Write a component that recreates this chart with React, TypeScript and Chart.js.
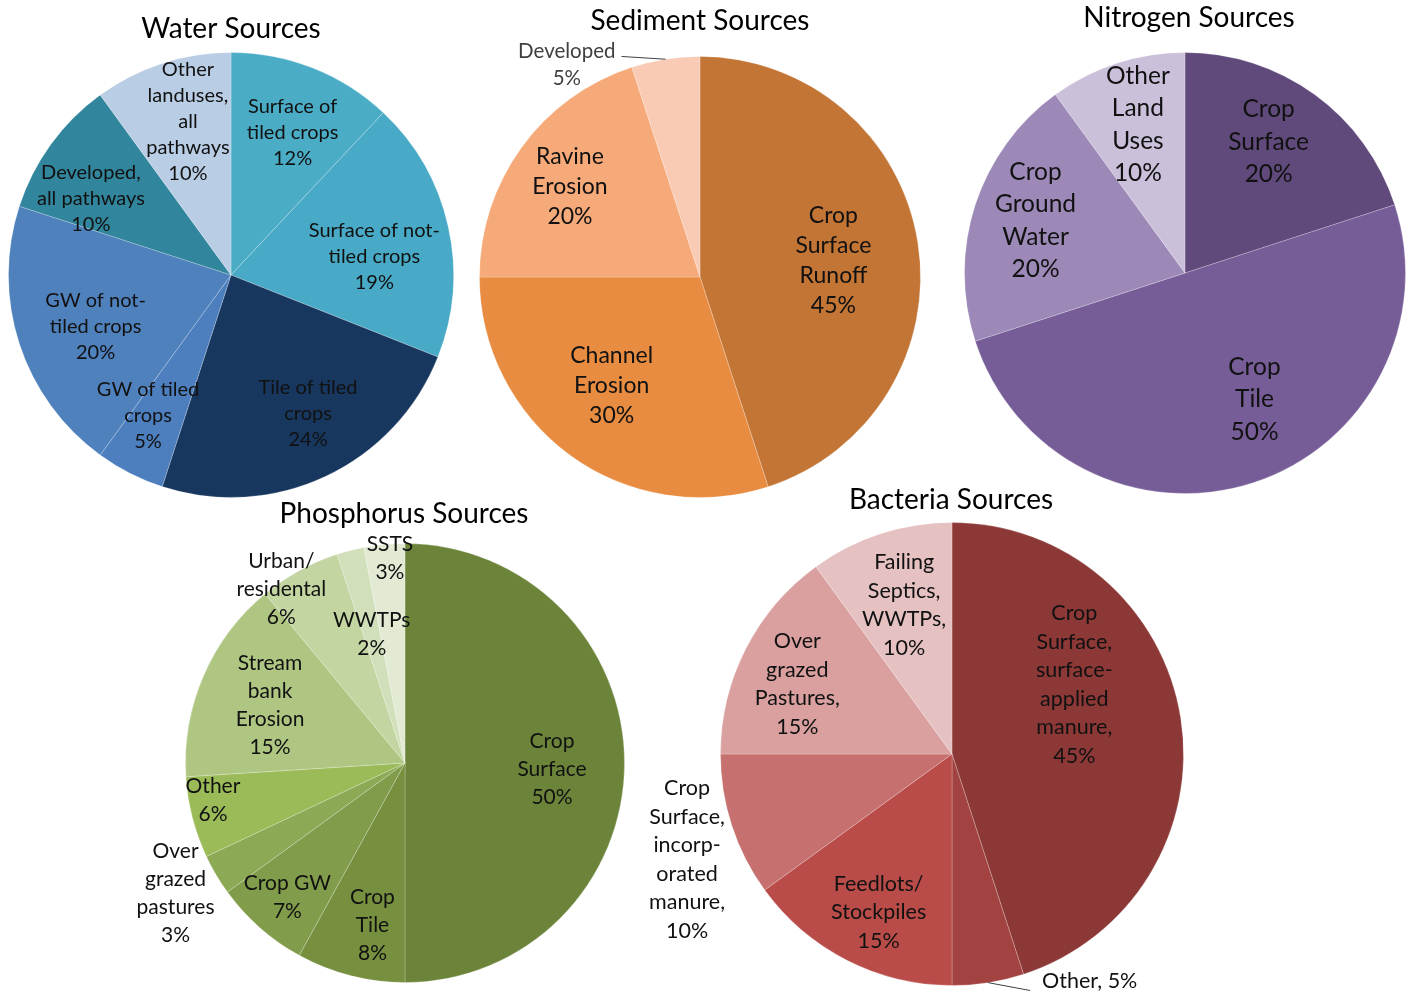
import React, { useEffect, useRef } from "react";
import { Chart, registerables } from "chart.js";

Chart.register(...registerables);

const PAGE_W = 1410;
const PAGE_H = 992;
const FONT = "Lato, 'Open Sans', sans-serif";
const TEXT_COLOR = "#111111";

// ---------- Water ----------
const waterTitle = "Water Sources";
const waterCategories = [
  "Surface of\ntiled crops",
  "Surface of not-\ntiled crops",
  "Tile of tiled\ncrops",
  "GW of tiled\ncrops",
  "GW of not-\ntiled crops",
  "Developed,\nall pathways",
  "Other\nlanduses,\nall\npathways",
];
const waterValues = [12, 19, 24, 5, 20, 10, 10];
const waterColors = ["#4BACC6", "#48AAC6", "#17375E", "#4D7FBE", "#4F81BD", "#31859C", "#B9CDE5"];

// ---------- Sediment ----------
const sedimentTitle = "Sediment Sources";
const sedimentCategories = ["Crop\nSurface\nRunoff", "Channel\nErosion", "Ravine\nErosion", "Developed"];
const sedimentValues = [45, 30, 20, 5];
const sedimentColors = ["#C37536", "#E88C42", "#F6AA79", "#F9CBB5"];

// ---------- Nitrogen ----------
const nitrogenTitle = "Nitrogen Sources";
const nitrogenCategories = ["Crop\nSurface", "Crop\nTile", "Crop\nGround\nWater", "Other\nLand\nUses"];
const nitrogenValues = [20, 50, 20, 10];
const nitrogenColors = ["#604A7B", "#765D97", "#9C89B8", "#CBC0DA"];

// ---------- Phosphorus ----------
const phosphorusTitle = "Phosphorus Sources";
const phosphorusCategories = [
  "Crop\nSurface",
  "Crop\nTile",
  "Crop GW",
  "Over\ngrazed\npastures",
  "Other",
  "Stream\nbank\nErosion",
  "Urban/\nresidental",
  "WWTPs",
  "SSTS",
];
const phosphorusValues = [50, 8, 7, 3, 6, 15, 6, 2, 3];
const phosphorusColors = ["#6B843A", "#76903F", "#819C4A", "#8CA955", "#9BBB59", "#AFC683", "#C3D5A1", "#D1DFBB", "#E2EAD4"];

// ---------- Bacteria ----------
const bacteriaTitle = "Bacteria Sources";
const bacteriaCategories = [
  "Crop\nSurface,\nsurface-\napplied\nmanure",
  "Other",
  "Feedlots/\nStockpiles",
  "Crop\nSurface,\nincorp-\norated\nmanure",
  "Over\ngrazed\nPastures",
  "Failing\nSeptics,\nWWTPs",
];
const bacteriaValues = [45, 5, 15, 10, 15, 10];
const bacteriaColors = ["#8C3836", "#A34341", "#B94C49", "#C6716F", "#D9A09F", "#E5C1C2"];

type Leader = null | { side: "left" | "right"; dy: number; gap: number };

type PieSpec = {
  title: string;
  categories: string[];
  values: number[];
  colors: string[];
  cx: number;
  cy: number;
  r: number;
  titleDx: number;
  titleDy: number;
  titleSize: number;
  fontSize: number;
  lineHeight: number;
  labelFrac: number[];
  labelShift: number[];
  separators?: string[];
  leaders?: Leader[];
  labelSizes?: (number | null)[];
  labelColors?: (string | null)[];
};

const specs: PieSpec[] = [
  {
    title: waterTitle,
    categories: waterCategories,
    values: waterValues,
    colors: waterColors,
    cx: 231,
    cy: 275,
    r: 223,
    titleDx: 0,
    titleDy: -247,
    titleSize: 28,
    fontSize: 20,
    lineHeight: 26,
    labelFrac: [0.7, 0.65, 0.71, 0.73, 0.65, 0.72, 0.72],
    labelShift: [1.7, 5, -4, 3.7, -2.6, -7, 2.4],
  },
  {
    title: sedimentTitle,
    categories: sedimentCategories,
    values: sedimentValues,
    colors: sedimentColors,
    cx: 700,
    cy: 277,
    r: 221,
    titleDx: 0,
    titleDy: -257,
    titleSize: 28,
    fontSize: 23,
    lineHeight: 30,
    labelFrac: [0.61, 0.63, 0.72, 1.14],
    labelShift: [1.7, 3.5, -1, -23],
    leaders: [null, null, null, { side: "right", dy: 5, gap: 6 }],
    labelSizes: [null, null, null, 20.5],
    labelColors: [null, null, null, "#404040"],
  },
  {
    title: nitrogenTitle,
    categories: nitrogenCategories,
    values: nitrogenValues,
    colors: nitrogenColors,
    cx: 1185,
    cy: 273,
    r: 221,
    titleDx: 4,
    titleDy: -256,
    titleSize: 28,
    fontSize: 24.5,
    lineHeight: 32.5,
    labelFrac: [0.71, 0.65, 0.72, 0.71],
    labelShift: [-3.7, -11, 1.7, 0.5],
  },
  {
    title: phosphorusTitle,
    categories: phosphorusCategories,
    values: phosphorusValues,
    colors: phosphorusColors,
    cx: 405,
    cy: 763,
    r: 220,
    titleDx: -1,
    titleDy: -250,
    titleSize: 28,
    fontSize: 21,
    lineHeight: 28,
    labelFrac: [0.67, 0.75, 0.81, 1.2, 0.89, 0.67, 0.975, 0.61, 0.94],
    labelShift: [2, -3, 0, 1.2, 3.8, 0, -6.5, 0, 1.2],
  },
  {
    title: bacteriaTitle,
    categories: bacteriaCategories,
    values: bacteriaValues,
    colors: bacteriaColors,
    cx: 952,
    cy: 754,
    r: 232,
    titleDx: -1,
    titleDy: -255,
    titleSize: 28,
    fontSize: 21.5,
    lineHeight: 28.5,
    labelFrac: [0.61, 1.145, 0.75, 1.23, 0.735, 0.68],
    labelShift: [-21, -22.3, -2, -3.5, -2.4, 0.3],
    separators: [",\n", ", ", "\n", ",\n", ",\n", ",\n"],
    leaders: [null, { side: "left", dy: 9, gap: 12 }, null, null, null, null],
  },
];

function makeLabelPlugin(spec: PieSpec) {
  return {
    id: "sliceLabels",
    afterDatasetsDraw(chart: any) {
      const ctx: CanvasRenderingContext2D = chart.ctx;
      const meta = chart.getDatasetMeta(0);
      ctx.save();
      ctx.textAlign = "center";
      ctx.textBaseline = "middle";
      meta.data.forEach((arc: any, i: number) => {
        const p = arc.getProps(["x", "y", "startAngle", "endAngle", "outerRadius"], true);
        const mid0 = (p.startAngle + p.endAngle) / 2;
        const mid = mid0 + ((spec.labelShift[i] || 0) * Math.PI) / 180;
        const d = spec.labelFrac[i] * p.outerRadius;
        const lx = p.x + d * Math.cos(mid);
        const ly = p.y + d * Math.sin(mid) + 1;
        const sep = spec.separators ? spec.separators[i] : "\n";
        const text = spec.categories[i] + sep + spec.values[i] + "%";
        const lines = text.split("\n");
        const size = (spec.labelSizes && spec.labelSizes[i]) || spec.fontSize;
        const lh = spec.lineHeight * (size / spec.fontSize);
        ctx.font = `${size}px ${FONT}`;
        ctx.fillStyle = (spec.labelColors && spec.labelColors[i]) || TEXT_COLOR;
        let maxW = 0;
        lines.forEach((ln, k) => {
          const yy = ly + (k - (lines.length - 1) / 2) * lh;
          ctx.fillText(ln, lx, yy);
          maxW = Math.max(maxW, ctx.measureText(ln).width);
        });
        const leader = spec.leaders ? spec.leaders[i] : null;
        if (leader) {
          const ax = p.x + p.outerRadius * Math.cos(mid0);
          const ay = p.y + p.outerRadius * Math.sin(mid0);
          const firstY = ly - ((lines.length - 1) / 2) * lh;
          const ex = leader.side === "right" ? lx + maxW / 2 + leader.gap : lx - maxW / 2 - leader.gap;
          const ey = firstY + leader.dy;
          ctx.strokeStyle = "#404040";
          ctx.lineWidth = 1;
          ctx.beginPath();
          ctx.moveTo(ex, ey);
          ctx.lineTo(ax, ay);
          ctx.stroke();
        }
      });
      // title
      ctx.font = `${spec.titleSize}px ${FONT}`;
      ctx.fillStyle = "#000000";
      const cx = (chart.chartArea.left + chart.chartArea.right) / 2;
      const cy = (chart.chartArea.top + chart.chartArea.bottom) / 2;
      ctx.fillText(spec.title, cx + spec.titleDx, cy + spec.titleDy + 1);
      ctx.restore();
    },
  };
}

function PieCanvas({ spec }: { spec: PieSpec }) {
  const ref = useRef<HTMLCanvasElement>(null);
  useEffect(() => {
    if (!ref.current) return;
    const chart = new Chart(ref.current, {
      type: "pie",
      data: {
        labels: spec.categories,
        datasets: [
          {
            data: spec.values,
            backgroundColor: spec.colors,
            borderColor: "rgba(255,255,255,0.22)",
            borderWidth: 1,
          },
        ],
      },
      options: {
        responsive: false,
        animation: false,
        events: [],
        layout: {
          padding: {
            left: spec.cx - spec.r,
            top: spec.cy - spec.r,
            right: PAGE_W - spec.cx - spec.r,
            bottom: PAGE_H - spec.cy - spec.r,
          },
        },
        plugins: {
          legend: { display: false },
          tooltip: { enabled: false },
          title: { display: false },
        },
      },
      plugins: [makeLabelPlugin(spec)],
    } as any);
    return () => chart.destroy();
  }, [spec]);
  return (
    <canvas
      ref={ref}
      width={PAGE_W}
      height={PAGE_H}
      style={{ position: "absolute", left: 0, top: 0, width: PAGE_W, height: PAGE_H }}
    />
  );
}

export default function App() {
  useEffect(() => {
    document.body.style.margin = "0";
    document.body.style.background = "#ffffff";
  }, []);
  return (
    <div style={{ position: "relative", width: PAGE_W, height: PAGE_H, background: "#ffffff", overflow: "hidden" }}>
      {specs.map((s) => (
        <PieCanvas key={s.title} spec={s} />
      ))}
    </div>
  );
}
